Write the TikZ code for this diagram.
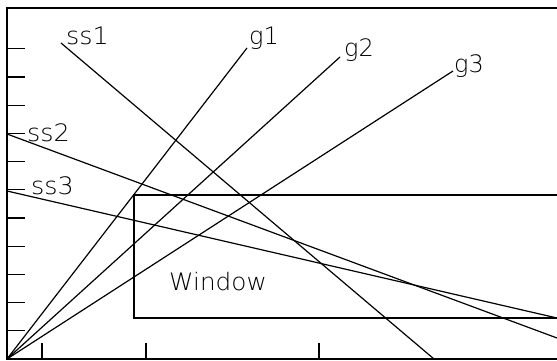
\documentclass[tikz,border=0pt]{standalone}
\usepackage{fontspec}
\newfontfamily\hfont{DejaVu Sans ExtraLight}
\begin{document}
\begin{tikzpicture}[x=1pt,y=1pt,
  ln/.style={line width=1.2pt},
  lab/.style={inner sep=0pt, font=\hfont\fontsize{24}{24}\selectfont}]
\useasboundingbox (0,0) rectangle (557,361);
% frame
\coordinate (O) at (7,2);
\coordinate (TL) at (7,353);
\coordinate (TR) at (557,353);
\coordinate (BR) at (557,2);
\draw[ln] (TR) -- (TL) -- (O) -- (BR);
% left ticks
\foreach \k in {1,...,11} {
  \draw[ln] (7,{2+28.2*\k}) -- (25,{2+28.2*\k});
}
% bottom ticks
\foreach \xx in {42,146,319} {
  \draw[ln] (\xx,2) -- (\xx,18);
}
% window
\coordinate (WTR) at (557,166);
\coordinate (WTL) at (134,166);
\coordinate (WBL) at (134,43);
\coordinate (WBR) at (557,43);
\draw[ln] (WTR) -- (WTL) -- (WBL) -- (WBR);
\node[lab, anchor=base west] (win) at (169,70) {\scalebox{1.03}[1]{Window}};
% g rays
\coordinate (g1e) at (247,313);
\coordinate (g2e) at (340,304);
\coordinate (g3e) at (453,290);
\draw[ln] (O) -- (g1e);
\draw[ln] (O) -- (g2e);
\draw[ln] (O) -- (g3e);
\node[lab, anchor=base west] (g1) at (249,316) {g1};
\node[lab, anchor=base west] (g2) at (344,304) {g2};
\node[lab, anchor=base west] (g3) at (454,288) {g3};
% ss lines
\coordinate (s1a) at (61,318);
\coordinate (s1b) at (434,2);
\coordinate (s2a) at (7,227);
\coordinate (s2b) at (557,23);
\coordinate (s3a) at (7,170);
\coordinate (s3b) at (557,43);
\draw[ln] (s1a) -- (s1b);
\draw[ln] (s2a) -- (s2b);
\draw[ln] (s3a) -- (s3b);
\node[lab, anchor=base west] (ss1) at (66,316) {\scalebox{1.06}[1]{ss1}};
\node[lab, anchor=west] (ss2) at (27,228) {\scalebox{1.06}[1]{ss2}};
\node[lab, anchor=west] (ss3) at (31,175) {\scalebox{1.06}[1]{ss3}};
\end{tikzpicture}
\end{document}
